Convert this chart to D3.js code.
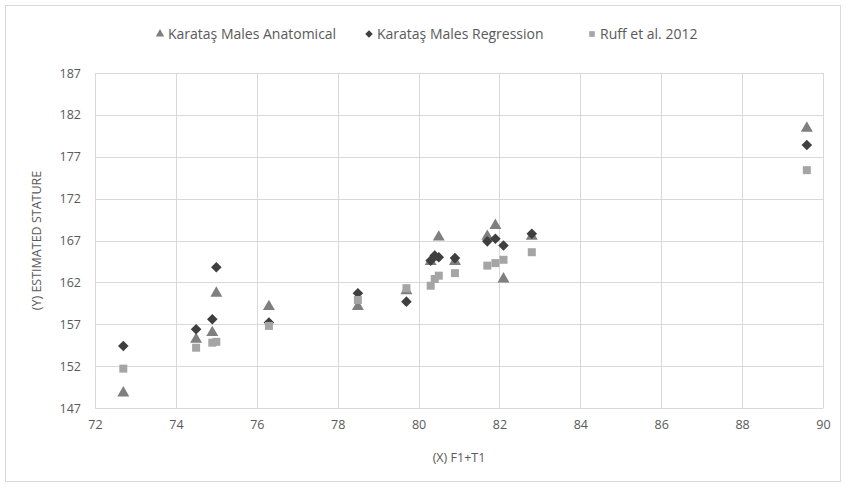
<!DOCTYPE html>
<html>
<head>
<meta charset="utf-8">
<script src="https://cdn.jsdelivr.net/npm/d3@7"></script>
<style>
  body { margin: 0; background: #fff; }
  text { font-family: "Open Sans", "Liberation Sans", sans-serif; fill: #595959; }
</style>
</head>
<body>
<div id="chart"></div>
<script>
// values
let seriesNames = ["Karataş Males Anatomical", "Karataş Males Regression", "Ruff et al. 2012"];
let xValues    = [72.7, 74.5, 74.9, 75.0, 76.3, 78.5, 79.7, 80.3, 80.4, 80.5, 80.9, 81.7, 81.9, 82.1, 82.8, 89.6];
let anatomical = [148.8, 155.2, 156.0, 160.7, 159.1, 159.1, 161.0, 164.5, 165.0, 167.4, 164.5, 167.5, 168.8, 162.4, 167.5, 180.4];
let regression = [154.4, 156.4, 157.6, 163.8, 157.2, 160.7, 159.7, 164.6, 165.2, 165.0, 164.9, 166.9, 167.2, 166.4, 167.8, 178.4];
let ruff       = [151.7, 154.2, 154.8, 154.9, 156.8, 159.9, 161.3, 161.6, 162.4, 162.8, 163.1, 164.0, 164.3, 164.7, 165.6, 175.4];
let xTicks = [72, 74, 76, 78, 80, 82, 84, 86, 88, 90];
let yTicks = [147, 152, 157, 162, 167, 172, 177, 182, 187];

let svgWidth = 846;
let svgHeight = 487;
let margin = { top: 73, right: 23, bottom: 79, left: 95 };
let width = svgWidth - margin.left - margin.right;
let height = svgHeight - margin.top - margin.bottom;

let colors = ["#7f7f7f", "#3f3f3f", "#a5a5a5"];
let symbols = [d3.symbolTriangle, d3.symbolSquare, d3.symbolSquare];
let sizes = [62, 56, 64];
let rotations = [0, 45, 0];

let svg = d3.select('#chart')
            .append('svg')
            .attr('width', svgWidth)
            .attr('height', svgHeight);

svg.append('rect')
    .attr('x', 5.5).attr('y', 5.5)
    .attr('width', svgWidth - 11).attr('height', svgHeight - 11)
    .attr('fill', '#fff')
    .attr('stroke', '#d9d9d9');

let g = svg.append('g')
           .attr('transform', `translate(${margin.left},${margin.top})`);

let x = d3.scaleLinear().domain([72, 90]).range([0, width]);
let y = d3.scaleLinear().domain([147, 187]).range([height, 0]);

// grid
g.selectAll('.hgrid')
    .data(yTicks)
    .enter().append('line')
    .attr('x1', 0).attr('x2', width)
    .attr('y1', d => Math.round(y(d)) + 0.5)
    .attr('y2', d => Math.round(y(d)) + 0.5)
    .attr('stroke', '#d9d9d9');

g.selectAll('.vgrid')
    .data(xTicks)
    .enter().append('line')
    .attr('y1', 0).attr('y2', height)
    .attr('x1', d => Math.round(x(d)) + 0.5)
    .attr('x2', d => Math.round(x(d)) + 0.5)
    .attr('stroke', '#d9d9d9');

// axes
let xAxis = d3.axisBottom(x).tickValues(xTicks).tickSize(0).tickPadding(12);
let yAxis = d3.axisLeft(y).tickValues(yTicks).tickSize(0).tickPadding(14);

let gx = g.append('g').attr('transform', `translate(0,${height})`).call(xAxis);
let gy = g.append('g').call(yAxis);
[gx, gy].forEach(a => {
    a.select('.domain').attr('stroke', '#d9d9d9');
    a.selectAll('text').style('font-size', '12.5px').attr('fill', '#595959');
});

// points
let allSeries = [anatomical, regression, ruff];
allSeries.forEach(function(vals, i) {
    let pts = xValues.map((xv, j) => ({ x: xv, y: vals[j] }));
    g.selectAll('.s' + i)
        .data(pts)
        .enter().append('path')
        .attr('d', d3.symbol().type(symbols[i]).size(sizes[i]))
        .attr('transform', d => `translate(${x(d.x)},${y(d.y)}) rotate(${rotations[i]})`)
        .attr('fill', colors[i]);
});

// axis titles
svg.append('text')
    .attr('x', margin.left + width / 2)
    .attr('y', 462)
    .attr('text-anchor', 'middle')
    .style('font-size', '12.5px')
    .text('(X) F1+T1');

svg.append('text')
    .attr('transform', `translate(41,${margin.top + height / 2}) rotate(-90)`)
    .attr('text-anchor', 'middle')
    .style('font-size', '12.5px')
    .text('(Y) ESTIMATED STATURE');

// legend
let legendX = [160, 369, 592];
seriesNames.forEach(function(name, i) {
    let lg = svg.append('g').attr('transform', `translate(${legendX[i]},34)`);
    lg.append('path')
        .attr('d', d3.symbol().type(symbols[i]).size(sizes[i] * 0.5))
        .attr('transform', `rotate(${rotations[i]})`)
        .attr('fill', colors[i]);
    lg.append('text')
        .attr('x', 8)
        .attr('y', 5)
        .style('font-size', '14px')
        .text(name);
});
</script>
</body>
</html>
